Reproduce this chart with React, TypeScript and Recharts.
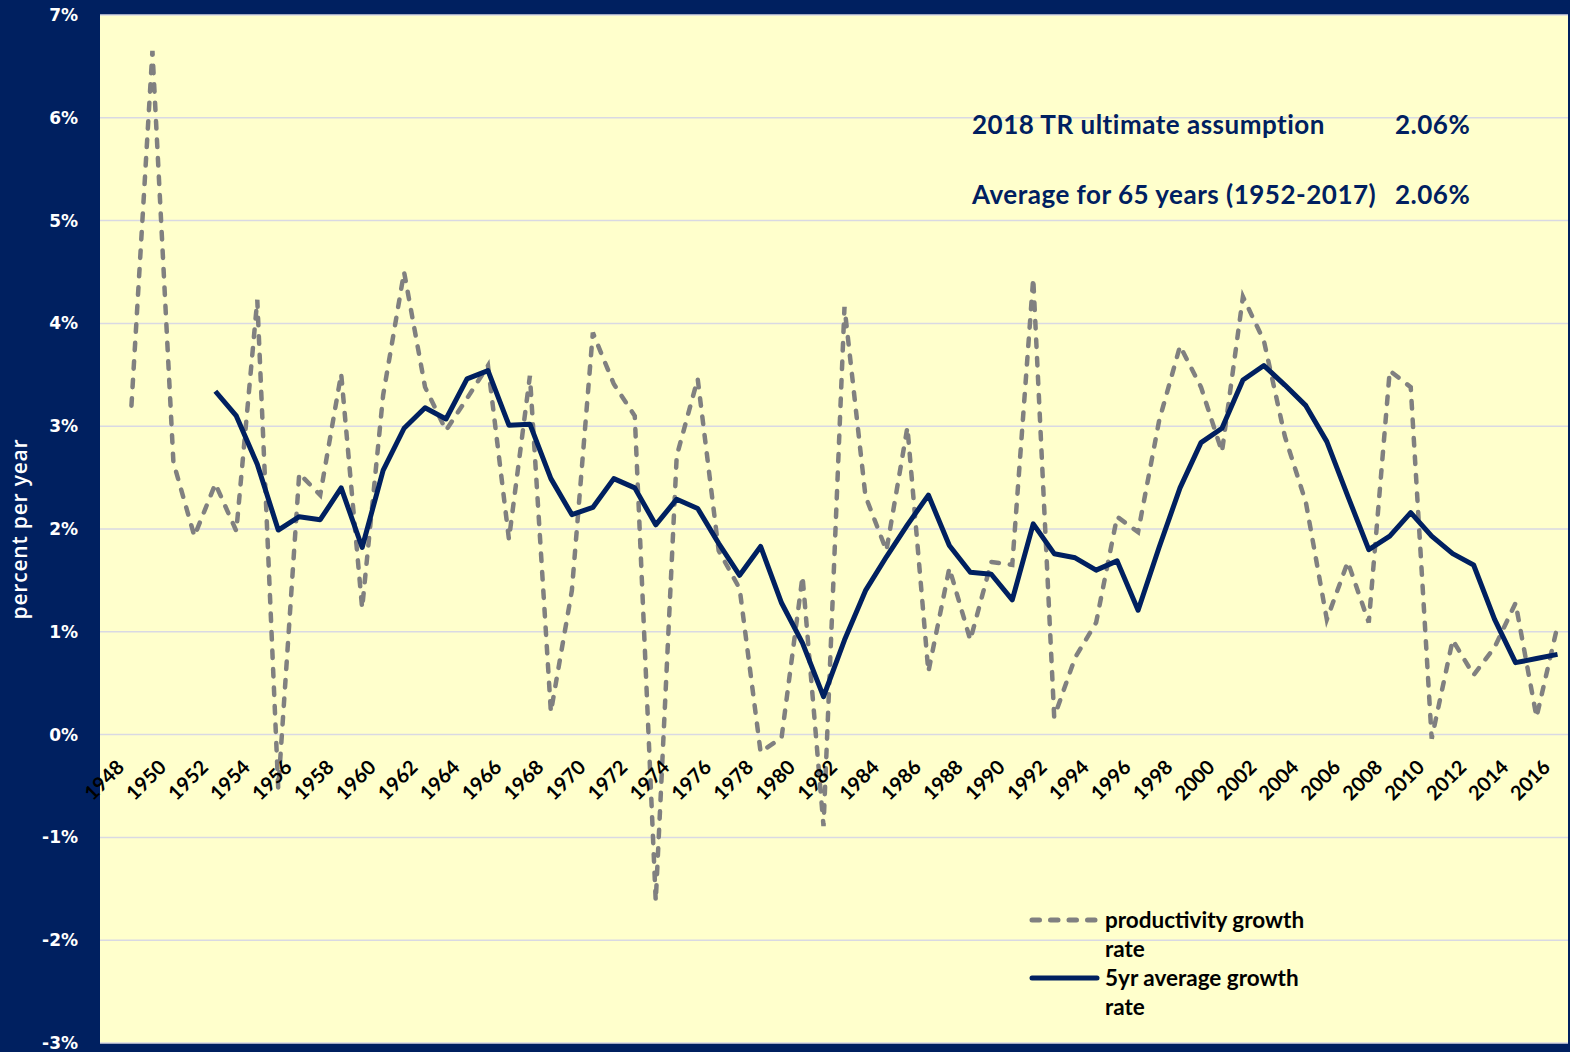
import React from 'react'
import { LineChart, Line, XAxis, YAxis, CartesianGrid, ReferenceDot, Legend } from 'recharts'

const NAVY = '#002060'
const GREY = '#808080'

const years = [
  1948, 1949,
  1950, 1951, 1952, 1953, 1954, 1955, 1956, 1957, 1958, 1959,
  1960, 1961, 1962, 1963, 1964, 1965, 1966, 1967, 1968, 1969,
  1970, 1971, 1972, 1973, 1974, 1975, 1976, 1977, 1978, 1979,
  1980, 1981, 1982, 1983, 1984, 1985, 1986, 1987, 1988, 1989,
  1990, 1991, 1992, 1993, 1994, 1995, 1996, 1997, 1998, 1999,
  2000, 2001, 2002, 2003, 2004, 2005, 2006, 2007, 2008, 2009,
  2010, 2011, 2012, 2013, 2014, 2015, 2016, 2017,
]

// annual productivity growth, percent
const productivity = [
  null, 3.2,
  6.65, 2.65, 1.93, 2.44, 1.98, 4.23, -0.53, 2.54, 2.33, 3.51,
  1.23, 3.3, 4.5, 3.38, 2.96, 3.27, 3.59, 1.9, 3.49, 0.22,
  1.4, 3.91, 3.41, 3.1, -1.62, 2.71, 3.46, 1.79, 1.42, -0.17,
  -0.03, 1.54, -0.89, 4.16, 2.32, 1.79, 2.99, 0.61, 1.62, 0.92,
  1.68, 1.65, 4.44, 0.17, 0.75, 1.09, 2.12, 1.97, 3.05, 3.78,
  3.38, 2.75, 4.26, 3.83, 2.9, 2.26, 1.12, 1.68, 1.09, 3.54,
  3.38, -0.04, 0.92, 0.58, 0.85, 1.28, 0.17, 1.06,
]

// 5 year average growth, percent
const fiveYearAvg = [
  null, null,
  null, null, null, 3.34, 3.1, 2.63, 1.99, 2.12, 2.09, 2.4,
  1.82, 2.57, 2.98, 3.18, 3.07, 3.46, 3.54, 3.01, 3.02, 2.49,
  2.14, 2.21, 2.49, 2.4, 2.04, 2.29, 2.2, 1.86, 1.55, 1.83,
  1.28, 0.89, 0.37, 0.92, 1.4, 1.73, 2.04, 2.33, 1.84, 1.58,
  1.56, 1.31, 2.05, 1.76, 1.72, 1.6, 1.69, 1.21, 1.82, 2.4,
  2.84, 2.98, 3.45, 3.59, 3.4, 3.2, 2.85, 2.32, 1.8, 1.93,
  2.16, 1.93, 1.76, 1.65, 1.12, 0.7, 0.74, 0.78,
]

const labelYears = [
  1948, 1950, 1952, 1954, 1956, 1958, 1960, 1962, 1964, 1966, 1968,
  1970, 1972, 1974, 1976, 1978, 1980, 1982, 1984, 1986, 1988,
  1990, 1992, 1994, 1996, 1998, 2000, 2002, 2004, 2006, 2008,
  2010, 2012, 2014, 2016,
]

const yTicks = [-3, -2, -1, 0, 1, 2, 3, 4, 5, 6, 7]

const seriesNames = ['productivity growth rate', '5yr average growth rate']

const notes = [
  { label: '2018 TR ultimate assumption', value: '2.06%' },
  { label: 'Average for 65 years (1952-2017)', value: '2.06%' },
]

const data = years.map((year, i) => ({
  year,
  productivity: productivity[i],
  avg: fiveYearAvg[i],
}))

// rotated year label sitting under the 0% line
const YearLabel = (props: any) => {
  const { cx, cy, year } = props
  if (cx == null || cy == null) return null
  const x = cx + 15
  const y = cy + 34
  return (
    <text
      x={x}
      y={y}
      transform={`rotate(-45 ${x} ${y})`}
      textAnchor="end"
      fontFamily="Lato"
      fontWeight={700}
      fontSize={20}
      fill="#000"
    >
      {year}
    </text>
  )
}

const LegendBox = ({ payload }: any) => {
  const items = [...(payload || [])].sort(
    (a: any, b: any) => seriesNames.indexOf(a.value) - seriesNames.indexOf(b.value)
  )
  return (
    <div style={{ display: 'flex', flexDirection: 'column' }}>
      {items.map((entry: any) => {
        const dashed = entry.payload?.strokeDasharray
        return (
          <div key={entry.value} style={{ display: 'flex', alignItems: 'flex-start' }}>
            <svg width={76} height={29}>
              <line
                x1={3}
                x2={68}
                y1={15}
                y2={15}
                stroke={entry.color}
                strokeWidth={5}
                strokeLinecap="round"
                strokeDasharray={dashed}
              />
            </svg>
            <div
              style={{
                width: 220,
                fontFamily: 'Lato',
                fontWeight: 700,
                fontSize: 22.5,
                lineHeight: '29px',
                color: '#000',
              }}
            >
              {entry.value}
            </div>
          </div>
        )
      })}
    </div>
  )
}

export default function App() {
  return (
    <div
      style={{
        position: 'absolute',
        left: 0,
        top: 0,
        width: 1570,
        height: 1052,
        background: NAVY,
        overflow: 'hidden',
      }}
    >
      <LineChart width={1570} height={1052} data={data} margin={{ top: 15, right: 2, bottom: 9, left: 0 }}>
        <CartesianGrid vertical={false} stroke="#d9d9e3" strokeWidth={1.5} fill="#FFFFCC" fillOpacity={1} />
        <XAxis dataKey="year" scale="band" hide />
        <YAxis
          domain={[-3, 7]}
          ticks={yTicks}
          interval={0}
          width={100}
          axisLine={false}
          tickLine={false}
          tickSize={0}
          tickMargin={22}
          tickFormatter={(v: number) => `${v}%`}
          tick={{ fill: '#fff', fontFamily: 'DejaVu Sans', fontWeight: 700, fontSize: 17 }}
        />
        {labelYears.map((yr) => (
          <ReferenceDot
            key={yr}
            x={yr}
            y={0}
            r={0}
            ifOverflow="visible"
            shape={(p: any) => <YearLabel {...p} year={yr} />}
          />
        ))}
        <Line
          type="linear"
          dataKey="productivity"
          name={seriesNames[0]}
          stroke={GREY}
          strokeWidth={4.5}
          strokeDasharray="7.5 11"
          strokeLinecap="round"
          dot={false}
          activeDot={false}
          isAnimationActive={false}
        />
        <Line
          type="linear"
          dataKey="avg"
          name={seriesNames[1]}
          stroke={NAVY}
          strokeWidth={5}
          strokeLinejoin="round"
          dot={false}
          activeDot={false}
          isAnimationActive={false}
        />
        <Legend
          layout="vertical"
          align="center"
          verticalAlign="middle"
          content={<LegendBox />}
          wrapperStyle={{ left: 1029, top: 905, width: 300 }}
        />
      </LineChart>

      {notes.map((n, i) => (
        <div
          key={n.label}
          style={{
            position: 'absolute',
            left: 972,
            top: 108 + i * 70,
            fontFamily: 'Lato',
            fontWeight: 700,
            fontSize: 26,
            lineHeight: '32px',
            letterSpacing: 0.5,
            color: NAVY,
            whiteSpace: 'nowrap',
          }}
        >
          <span>{n.label}</span>
          <span style={{ position: 'absolute', left: 423 }}>{n.value}</span>
        </div>
      ))}

      <div
        style={{
          position: 'absolute',
          left: 19,
          top: 529,
          transform: 'translate(-50%, -50%) rotate(-90deg)',
          color: '#fff',
          fontFamily: 'Open Sans',
          fontWeight: 600,
          fontSize: 21,
          letterSpacing: 0.8,
          whiteSpace: 'nowrap',
        }}
      >
        percent per year
      </div>
    </div>
  )
}
